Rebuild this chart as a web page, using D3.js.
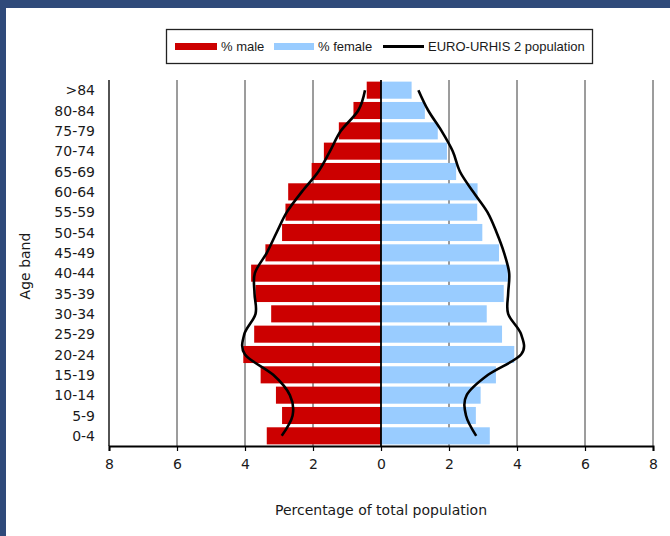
<!DOCTYPE html>
<html lang="en">
  <head>
    <meta charset="utf-8">
    <title>Population pyramid</title>
    <style>
      body { margin: 0; background: #fff; }
      svg text { font-family: "DejaVu Sans", sans-serif; fill: #1a1a1a; }
      svg .legend text { font-family: "Liberation Sans", Arial, sans-serif; }
    </style>
  </head>
  <body>
    <svg class="pyramid"></svg>

    <script src="https://d3js.org/d3.v7.min.js"></script>
    <script type="text/javascript">
      // age bands, oldest at the top
      var ageBands = [">84", "80-84", "75-79", "70-74", "65-69", "60-64", "55-59", "50-54", "45-49",
                      "40-44", "35-39", "30-34", "25-29", "20-24", "15-19", "10-14", "5-9", "0-4"];
      var pctMale = [0.42, 0.81, 1.24, 1.68, 2.04, 2.73, 2.81, 2.91, 3.40,
                     3.82, 3.69, 3.23, 3.73, 4.05, 3.54, 3.09, 2.91, 3.36];
      var pctFemale = [0.90, 1.29, 1.67, 1.94, 2.21, 2.84, 2.83, 2.98, 3.47,
                       3.73, 3.61, 3.11, 3.56, 3.92, 3.38, 2.93, 2.79, 3.20];
      // EURO-URHIS 2 reference population
      var refMale = [0.47, 0.67, 1.18, 1.50, 1.84, 2.33, 2.77, 3.07, 3.36,
                     3.71, 3.72, 3.69, 4.02, 4.00, 3.17, 2.68, 2.60, 2.92];
      var refFemale = [1.10, 1.39, 1.78, 2.11, 2.32, 2.71, 3.13, 3.40, 3.62,
                       3.77, 3.74, 3.74, 4.12, 4.12, 3.15, 2.52, 2.50, 2.80];
      var xTicks = [-8, -6, -4, -2, 0, 2, 4, 6, 8];

      var w = 670;
      var h = 536;
      var plotLeft = 109, plotRight = 653, plotTop = 80, plotBottom = 446;

      var svg = d3.select('.pyramid')
                  .attr('width', w)
                  .attr('height', h);

      // frame
      svg.append('rect').attr('x', 0).attr('y', 0).attr('width', w).attr('height', 8).attr('fill', '#2f4a7a');
      svg.append('rect').attr('x', 0).attr('y', 0).attr('width', 6).attr('height', h).attr('fill', '#2f4a7a');

      var x = d3.scaleLinear().domain([-8, 8]).range([plotLeft, plotRight]);
      var y = d3.scaleBand().domain(ageBands).range([plotTop, plotBottom]).paddingInner(0.16).paddingOuter(0.08);

      // gridlines
      svg.selectAll('line.grid')
         .data(xTicks.filter(function(t) { return t !== 0 && t !== -8; }))
         .enter()
         .append('line')
         .attr('class', 'grid')
         .attr('x1', function(d) { return x(d); })
         .attr('x2', function(d) { return x(d); })
         .attr('y1', plotTop)
         .attr('y2', plotBottom)
         .attr('stroke', '#3a3a3a')
         .attr('stroke-width', 1);

      svg.append('line')
         .attr('x1', x(-8)).attr('x2', x(-8))
         .attr('y1', plotTop).attr('y2', plotBottom)
         .attr('stroke', '#1a1a1a').attr('stroke-width', 1.5);

      var rows = ageBands.map(function(a, i) {
        return { band: a, male: pctMale[i], female: pctFemale[i], refM: refMale[i], refF: refFemale[i] };
      });

      svg.selectAll('rect.male')
         .data(rows)
         .enter()
         .append('rect')
         .attr('class', 'male')
         .attr('x', function(d) { return x(-d.male); })
         .attr('y', function(d) { return y(d.band); })
         .attr('width', function(d) { return x(0) - x(-d.male); })
         .attr('height', y.bandwidth())
         .attr('fill', '#cc0000');

      svg.selectAll('rect.female')
         .data(rows)
         .enter()
         .append('rect')
         .attr('class', 'female')
         .attr('x', x(0))
         .attr('y', function(d) { return y(d.band); })
         .attr('width', function(d) { return x(d.female) - x(0); })
         .attr('height', y.bandwidth())
         .attr('fill', '#99ccff');

      // zero line
      svg.append('line')
         .attr('x1', x(0)).attr('x2', x(0))
         .attr('y1', plotTop).attr('y2', plotBottom)
         .attr('stroke', '#000').attr('stroke-width', 1.8);

      // reference population lines
      var cy = function(d) { return y(d.band) + y.bandwidth() / 2; };
      var lineM = d3.line().x(function(d) { return x(-d.refM); }).y(cy).curve(d3.curveCardinal.tension(0));
      var lineF = d3.line().x(function(d) { return x(d.refF); }).y(cy).curve(d3.curveCardinal.tension(0));

      svg.append('path').attr('d', lineM(rows)).attr('fill', 'none').attr('stroke', '#000').attr('stroke-width', 2.6);
      svg.append('path').attr('d', lineF(rows)).attr('fill', 'none').attr('stroke', '#000').attr('stroke-width', 2.6);

      // x axis
      var xAxis = d3.axisBottom(x)
                    .tickValues(xTicks)
                    .tickSize(5)
                    .tickFormat(function(d) { return Math.abs(d); });
      var gx = svg.append('g').attr('transform', 'translate(0,' + plotBottom + ')').call(xAxis);
      gx.attr('font-family', null);
      gx.select('.domain').attr('stroke', '#000').attr('stroke-width', 2);
      gx.selectAll('.tick line').attr('stroke', '#000').attr('stroke-width', 1.2);
      gx.selectAll('.tick text').attr('font-size', 14).attr('dy', '1.05em').attr('fill', '#1a1a1a');

      // y labels
      svg.selectAll('text.age')
         .data(ageBands)
         .enter()
         .append('text')
         .attr('class', 'age')
         .attr('x', 95)
         .attr('y', function(d) { return y(d) + y.bandwidth() / 2; })
         .attr('dy', '0.36em')
         .attr('text-anchor', 'end')
         .attr('font-size', 14)
         .text(function(d) { return d; });

      svg.append('text')
         .attr('transform', 'translate(30,' + ((plotTop + plotBottom) / 2 + 3) + ') rotate(-90)')
         .attr('text-anchor', 'middle')
         .attr('font-size', 14)
         .text('Age band');

      svg.append('text')
         .attr('x', x(0))
         .attr('y', 515)
         .attr('text-anchor', 'middle')
         .attr('font-size', 14)
         .text('Percentage of total population');

      // legend
      var lg = svg.append('g').attr('class', 'legend');
      lg.append('rect').attr('x', 166.5).attr('y', 29.5).attr('width', 426).attr('height', 34)
        .attr('fill', '#fff').attr('stroke', '#222').attr('stroke-width', 1.3);
      lg.append('rect').attr('x', 175).attr('y', 43).attr('width', 42).attr('height', 7).attr('fill', '#cc0000');
      lg.append('text').attr('x', 221).attr('y', 51).attr('font-size', 13).text('% male');
      lg.append('rect').attr('x', 274).attr('y', 43).attr('width', 40).attr('height', 7).attr('fill', '#99ccff');
      lg.append('text').attr('x', 318).attr('y', 51).attr('font-size', 13).text('% female');
      lg.append('line').attr('x1', 383).attr('x2', 424).attr('y1', 46.5).attr('y2', 46.5)
        .attr('stroke', '#000').attr('stroke-width', 3);
      lg.append('text').attr('x', 428).attr('y', 51).attr('font-size', 13).text('EURO-URHIS 2 population');
    </script>
  </body>
</html>
